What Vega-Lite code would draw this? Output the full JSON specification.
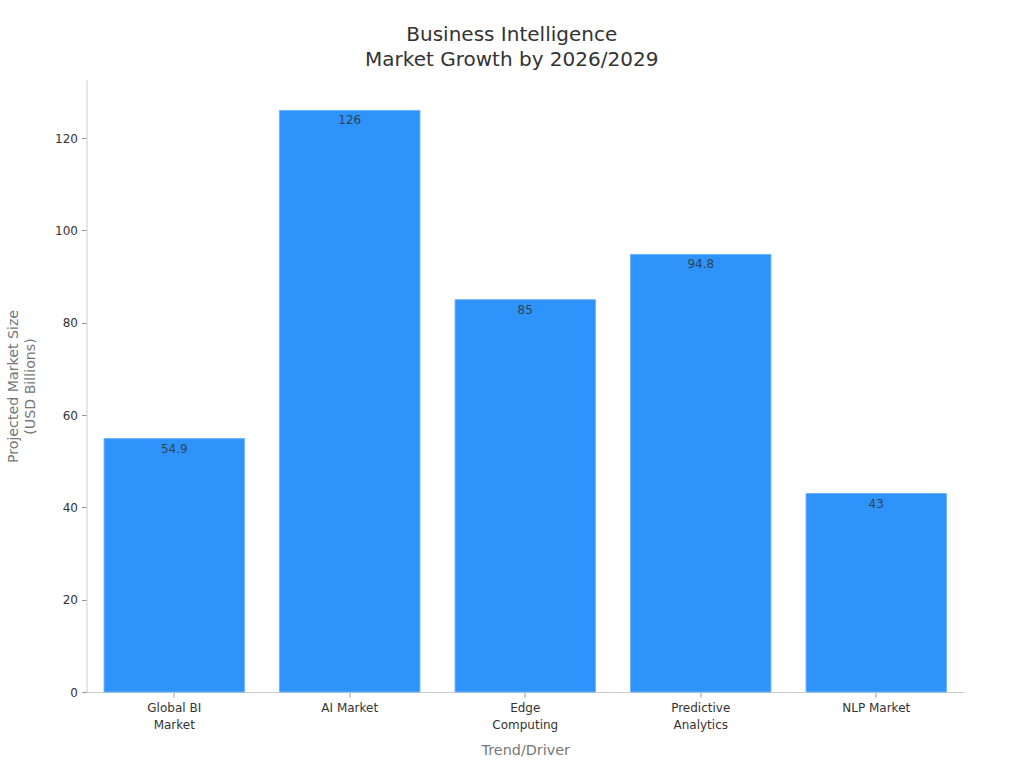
{
  "$schema": "https://vega.github.io/schema/vega-lite/v6.json",
  "width": 877.5,
  "height": 612,
  "autosize": {"type": "none"},
  "padding": {"left": 86.5, "top": 80, "right": 60, "bottom": 76},
  "background": "white",
  "title": {
    "text": ["Business Intelligence", "Market Growth by 2026/2029"],
    "anchor": "middle",
    "dx": -13.5,
    "font": "DejaVu Sans",
    "fontSize": 20,
    "fontWeight": "normal",
    "color": "#333333",
    "lineHeight": 25,
    "offset": 10
  },
  "data": {
    "values": [
      {"market": "Global BI Market", "size": 54.9},
      {"market": "AI Market", "size": 126},
      {"market": "Edge Computing", "size": 85},
      {"market": "Predictive Analytics", "size": 94.8},
      {"market": "NLP Market", "size": 43}
    ]
  },
  "encoding": {
    "x": {
      "field": "market",
      "type": "nominal",
      "sort": null,
      "scale": {"paddingInner": 0.2, "paddingOuter": 0.1},
      "axis": {
        "title": "Trend/Driver",
        "titleFontWeight": "normal",
        "titleFontSize": 14.4,
        "titleColor": "#777777",
        "titlePadding": 13,
        "labelAngle": 0,
        "labelFontSize": 12,
        "labelColor": "#333333",
        "labelPadding": 5,
        "labelLineHeight": 17,
        "tickColor": "#999999",
        "tickSize": 5,
        "domainColor": "#cccccc",
        "labelExpr": "datum.value == 'Global BI Market' ? ['Global BI', 'Market'] : datum.value == 'Edge Computing' ? ['Edge', 'Computing'] : datum.value == 'Predictive Analytics' ? ['Predictive', 'Analytics'] : datum.value"
      }
    },
    "y": {
      "field": "size",
      "type": "quantitative",
      "scale": {"domain": [0, 132.6], "nice": false},
      "axis": {
        "title": ["Projected Market Size", "(USD Billions)"],
        "titleFontWeight": "normal",
        "titleFontSize": 14.2,
        "titleColor": "#777777",
        "titleLineHeight": 17,
        "titlePadding": 17,
        "labelFontSize": 12,
        "labelColor": "#333333",
        "labelPadding": 4,
        "tickColor": "#999999",
        "tickSize": 5,
        "domainColor": "#cccccc",
        "grid": false,
        "values": [0, 20, 40, 60, 80, 100, 120]
      }
    }
  },
  "layer": [
    {
      "mark": {"type": "bar", "color": "#2E93FA", "stroke": "#6DB3FB", "strokeWidth": 1}
    },
    {
      "mark": {"type": "text", "baseline": "top", "dy": 5, "font": "DejaVu Sans", "fontSize": 12, "color": "#333333", "opacity": 0.85},
      "encoding": {"text": {"field": "size", "type": "quantitative"}}
    }
  ],
  "config": {
    "font": "DejaVu Sans",
    "view": {"stroke": "transparent"}
  }
}
